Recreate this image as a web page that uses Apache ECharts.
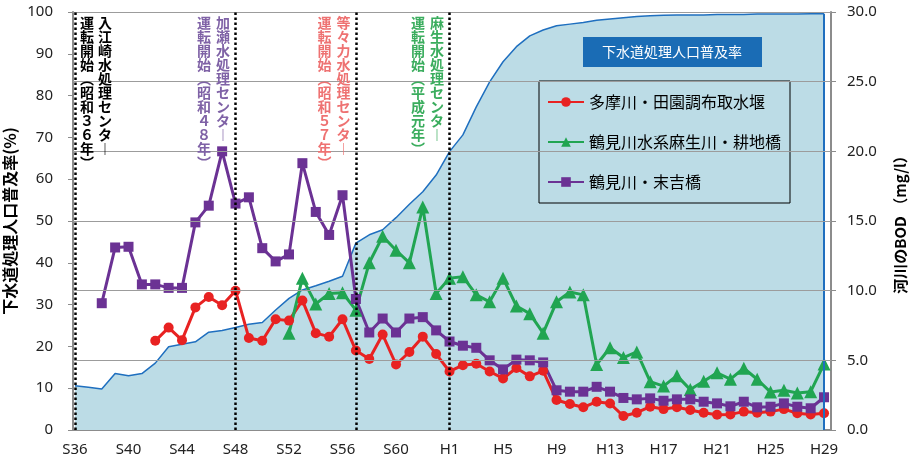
<!DOCTYPE html>
<html>
<head>
<meta charset="utf-8">
<script src="https://cdn.jsdelivr.net/npm/echarts@6/dist/echarts.min.js"></script>
<style>
  html, body { margin: 0; padding: 0; background: #fff; }
  #main { width: 917px; height: 467px; }
</style>
</head>
<body>
<div id="main"></div>
<script>
    var years = [1961, 1962, 1963, 1964, 1965, 1966, 1967, 1968, 1969, 1970,
        1971, 1972, 1973, 1974, 1975, 1976, 1977, 1978, 1979, 1980,
        1981, 1982, 1983, 1984, 1985, 1986, 1987, 1988, 1989, 1990,
        1991, 1992, 1993, 1994, 1995, 1996, 1997, 1998, 1999, 2000,
        2001, 2002, 2003, 2004, 2005, 2006, 2007, 2008, 2009, 2010,
        2011, 2012, 2013, 2014, 2015, 2016, 2017];
    var tickYears = [1961, 1965, 1969, 1973, 1977, 1981, 1985, 1989, 1993, 1997, 2001, 2005, 2009, 2013, 2017];
    var tickLabels = ['S36', 'S40', 'S44', 'S48', 'S52', 'S56', 'S60', 'H1', 'H5', 'H9', 'H13', 'H17', 'H21', 'H25', 'H29'];

    // 下水道処理人口普及率 (%)
    var rate = [10.6, 10.2, 9.8, 13.5, 13.0, 13.5, 16.0, 19.9, 20.5, 21.1,
        23.4, 23.8, 24.5, 25.3, 25.7, 28.7, 31.5, 33.5, 34.5, 35.6,
        36.8, 44.7, 46.7, 47.9, 50.8, 54.0, 57.0, 61.0, 66.6, 70.6,
        77.3, 83.3, 88.1, 91.7, 94.3, 95.7, 96.7, 97.1, 97.5, 98.0,
        98.3, 98.6, 98.9, 99.1, 99.2, 99.3, 99.3, 99.3, 99.4, 99.4,
        99.4, 99.5, 99.5, 99.5, 99.5, 99.6, 99.6];

    // BOD (mg/l)
    var tama = [null, null, null, null, null, null, 6.4, 7.35, 6.45, 8.8,
        9.55, 8.95, 10.0, 6.6, 6.4, 7.95, 7.85, 9.3, 6.95, 6.7,
        7.95, 5.7, 5.1, 6.85, 4.7, 5.6, 6.7, 5.45, 4.2, 4.65,
        4.75, 4.2, 3.7, 4.45, 3.85, 4.25, 2.15, 1.87, 1.63, 2.03,
        1.9, 1.0, 1.24, 1.67, 1.5, 1.63, 1.44, 1.24, 1.1, 1.12,
        1.32, 1.24, 1.32, 1.5, 1.2, 1.12, 1.2];
    var asao = [null, null, null, null, null, null, null, null, null, null,
        null, null, null, null, null, null, 6.95, 10.9, 9.05, 9.8,
        9.85, 8.6, 12.0, 13.9, 12.9, 12.0, 16.0, 9.8, 10.9, 11.0,
        9.7, 9.2, 10.9, 8.9, 8.35, 6.95, 9.2, 9.9, 9.7, 4.7,
        5.9, 5.2, 5.6, 3.47, 3.15, 3.9, 2.9, 3.5, 4.1, 3.65,
        4.43, 3.64, 2.72, 2.85, 2.65, 2.75, 4.74];
    var tsurumi = [null, null, 9.1, 13.1, 13.15, 10.45, 10.45, 10.2, 10.2, 14.9,
        16.1, 20.0, 16.25, 16.7, 13.05, 12.1, 12.6, 19.15, 15.65, 14.0,
        16.85, 9.4, 7.0, 8.0, 7.0, 8.0, 8.1, 7.15, 6.35, 6.05,
        5.9, 5.0, 4.35, 5.05, 5.0, 4.85, 2.85, 2.75, 2.75, 3.1,
        2.75, 2.3, 2.2, 2.27, 2.1, 2.2, 2.2, 2.03, 1.91, 1.7,
        2.03, 1.63, 1.67, 1.91, 1.67, 1.56, 2.35];

    var bodGrid = [5, 10, 15, 20, 25, 30];
    var startYears = [1961, 1973, 1982, 1989];
    var notes = [
        {year: 1961, name: '入江崎水処理センター', sub: '運転開始（昭和３６年）', color: '#000000', side: 1},
        {year: 1973, name: '加瀬水処理センター', sub: '運転開始（昭和４８年）', color: '#7F62A6', side: -1},
        {year: 1982, name: '等々力水処理センター', sub: '運転開始（昭和５７年）', color: '#EE7272', side: -1},
        {year: 1989, name: '麻生水処理センター', sub: '運転開始（平成元年）', color: '#3BAD5E', side: -1}
    ];

    function pairs(vals) {
        return years.map(function (y, i) {
            return [y, vals[i]];
        });
    }

    function vertical(s) {
        return s.replace(/（/g, '︵').replace(/）/g, '︶').replace(/ー/g, '︱').split('').join('\n');
    }

    var cjk = '"Noto Sans CJK JP", sans-serif';
    var latin = '"Noto Sans", sans-serif';
    var axisGray = '#8c8c8c';

    var chart = echarts.init(document.getElementById('main'));
    chart.setOption({
        animation: false,
        title: {
            text: '下水道処理人口普及率', left: 583, top: 37,
            backgroundColor: '#1A6CB5', padding: [8, 20, 8, 19],
            textStyle: {color: '#fff', fontSize: 14, fontWeight: 'normal', fontFamily: cjk}
        },
        legend: {
            data: ['多摩川・田園調布取水堰', '鶴見川水系麻生川・耕地橋', '鶴見川・末吉橋'],
            orient: 'vertical', left: 539, top: 81,
            borderColor: '#000', borderWidth: 1, padding: [13, 9, 13, 8],
            itemGap: 24, itemWidth: 36, itemHeight: 12,
            textStyle: {fontSize: 16, color: '#000', fontFamily: cjk}
        },
        grid: {left: 73, right: 86, top: 12, bottom: 37, outerBoundsMode: 'none', containLabel: false},
        xAxis: {
            type: 'value', min: 1960.85, max: 2017.52,
            splitLine: {show: false},
            axisLine: {lineStyle: {color: axisGray, width: 2}},
            axisTick: {show: false},
            axisLabel: {
                customValues: tickYears, margin: 12, fontSize: 15, color: '#222', fontFamily: latin,
                formatter: function (v) {
                    var k = tickYears.indexOf(Math.round(v));
                    return k >= 0 ? tickLabels[k] : '';
                }
            }
        },
        yAxis: [
            {
                type: 'value', min: 0, max: 100, interval: 10,
                name: '下水道処理人口普及率(%)', nameLocation: 'middle', nameGap: 55, nameRotate: 90,
                nameMoveOverlap: false,
                nameTextStyle: {fontSize: 16, fontWeight: 'bold', color: '#000', fontFamily: cjk},
                splitLine: {show: false},
                axisLine: {show: true, lineStyle: {color: axisGray, width: 2}},
                axisTick: {show: true, length: 5, lineStyle: {color: axisGray}},
                axisLabel: {margin: 20, fontSize: 15, color: '#222', fontFamily: latin}
            },
            {
                type: 'value', min: 0, max: 30, interval: 5, position: 'right',
                name: '河川のBOD （mg/l）', nameLocation: 'middle', nameGap: 62, nameRotate: 90,
                nameMoveOverlap: false,
                nameTextStyle: {fontSize: 15, fontWeight: 'bold', color: '#000', fontFamily: cjk},
                splitLine: {show: false},
                axisLine: {show: true, lineStyle: {color: axisGray, width: 2}},
                axisTick: {show: true, length: 5, lineStyle: {color: axisGray}},
                axisLabel: {
                    margin: 16, fontSize: 15, color: '#222', fontFamily: latin,
                    formatter: function (v) { return v.toFixed(1); }
                }
            }
        ],
        series: [
            {
                name: '下水道処理人口普及率', type: 'line', yAxisIndex: 0, z: 1,
                data: pairs(rate), symbol: 'none',
                lineStyle: {color: '#1F6FBF', width: 1.5},
                areaStyle: {color: '#BCDCE6', opacity: 1},
                markLine: {
                    silent: true, symbol: ['none', 'none'], label: {show: false},
                    lineStyle: {color: '#1F6FBF', width: 2, type: 'solid'},
                    data: [[{coord: [years[years.length - 1], 0]}, {coord: [years[years.length - 1], rate[rate.length - 1]]}]]
                }
            },
            {
                name: 'grid', type: 'line', yAxisIndex: 1, z: 2, data: [],
                markLine: {
                    silent: true, symbol: ['none', 'none'], label: {show: false},
                    lineStyle: {color: '#9c9c9c', width: 1, type: 'solid'},
                    data: bodGrid.map(function (v) { return {yAxis: v}; })
                }
            },
            {
                name: '多摩川・田園調布取水堰', type: 'line', yAxisIndex: 1, z: 3,
                data: pairs(tama), symbol: 'circle', symbolSize: 10,
                itemStyle: {color: '#E82222'}, lineStyle: {color: '#E82222', width: 3}
            },
            {
                name: '鶴見川水系麻生川・耕地橋', type: 'line', yAxisIndex: 1, z: 3,
                data: pairs(asao), symbol: 'triangle', symbolSize: 13,
                itemStyle: {color: '#21A552'}, lineStyle: {color: '#21A552', width: 3}
            },
            {
                name: '鶴見川・末吉橋', type: 'line', yAxisIndex: 1, z: 3,
                data: pairs(tsurumi), symbol: 'rect', symbolSize: 10,
                itemStyle: {color: '#6B3294'}, lineStyle: {color: '#6B3294', width: 3}
            },
            {
                name: 'start', type: 'line', yAxisIndex: 0, z: 4, data: [],
                markLine: {
                    silent: true, symbol: ['none', 'none'], label: {show: false},
                    lineStyle: {color: '#000', width: 2.5, type: [2.5, 2.5]},
                    data: startYears.map(function (y) { return {xAxis: y}; })
                }
            }
        ]
    });

    var graphic = [];
    notes.forEach(function (n) {
        var x = chart.convertToPixel({xAxisIndex: 0}, n.year);
        var nx = n.side > 0 ? x + 30 : x - 12.5;
        var sx = n.side > 0 ? x + 12 : x - 31.5;
        [[nx, n.name], [sx, n.sub]].forEach(function (c) {
            graphic.push({
                type: 'text', x: c[0], y: 16, z: 10,
                style: {
                    text: vertical(c[1]), fill: n.color, align: 'center', verticalAlign: 'top',
                    fontSize: 14, fontWeight: 'bold', lineHeight: 14, fontFamily: cjk
                }
            });
        });
    });
    chart.setOption({graphic: graphic});
</script>
</body>
</html>
